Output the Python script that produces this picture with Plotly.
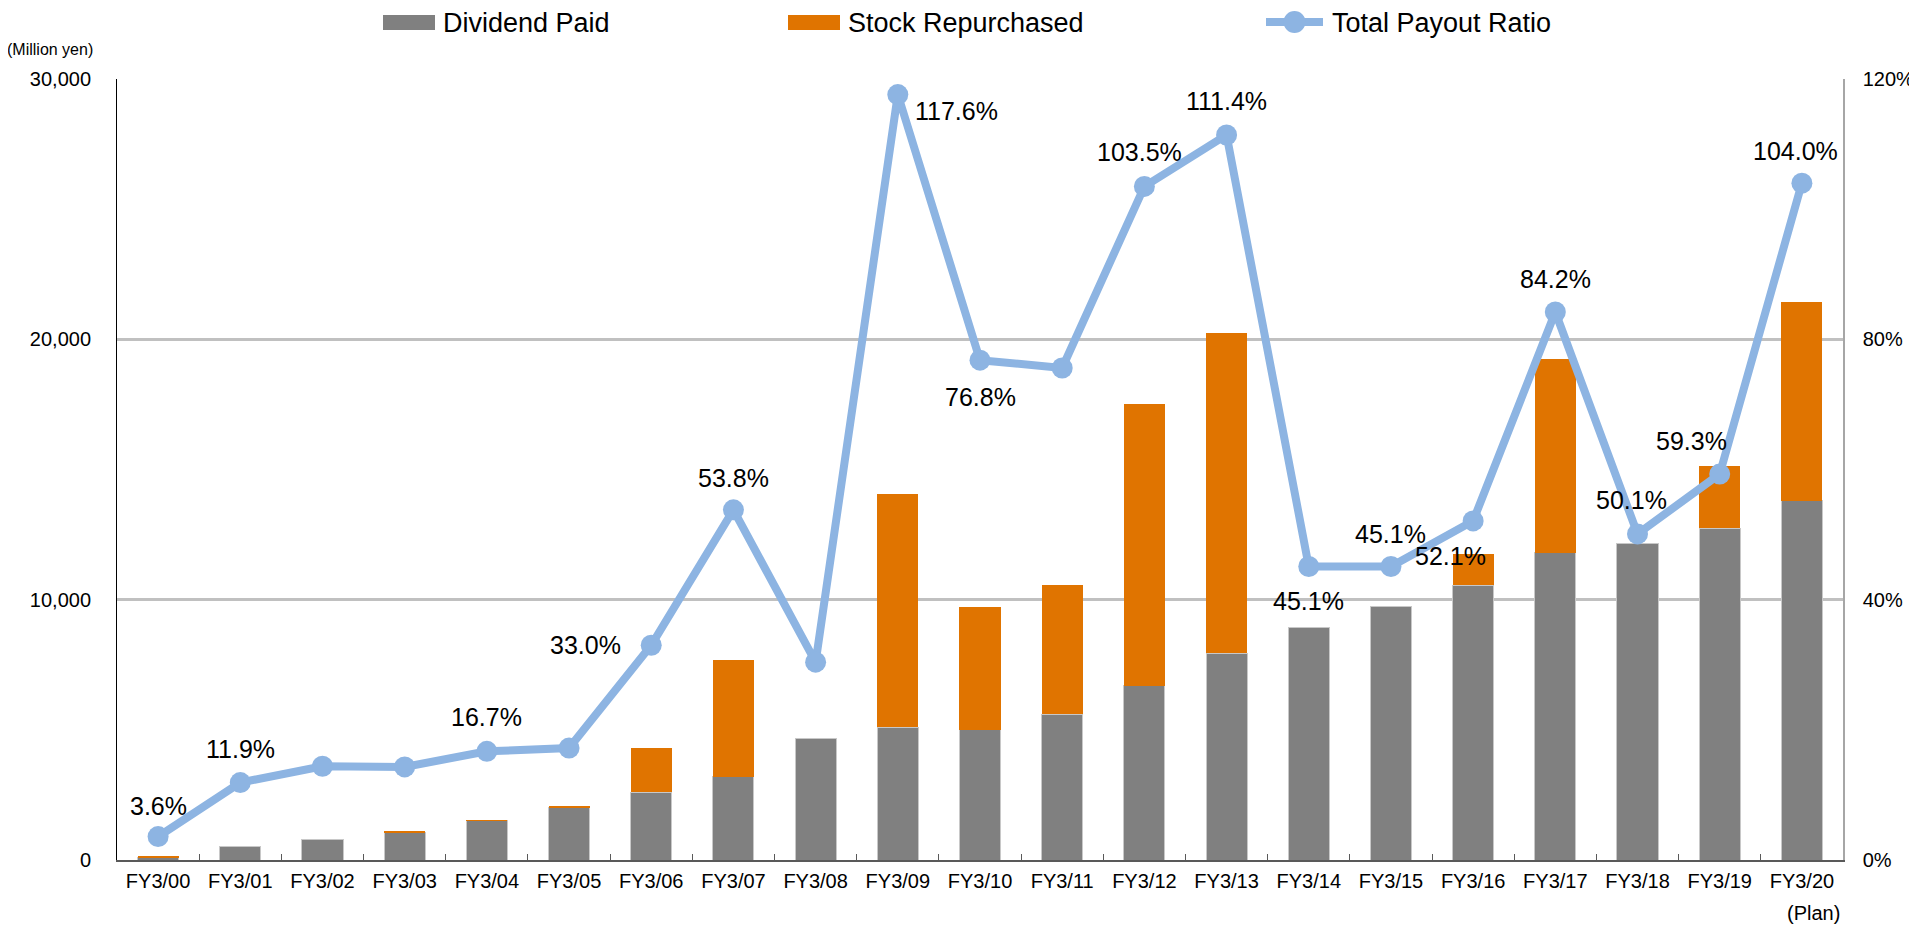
import plotly.graph_objects as go

categories = ["FY3/00", "FY3/01", "FY3/02", "FY3/03", "FY3/04", "FY3/05", "FY3/06",
              "FY3/07", "FY3/08", "FY3/09", "FY3/10", "FY3/11", "FY3/12", "FY3/13",
              "FY3/14", "FY3/15", "FY3/16", "FY3/17", "FY3/18", "FY3/19", "FY3/20"]
dividend_paid = [80, 520, 800, 1050, 1500, 2000, 2600, 3200, 4650, 5100, 5000, 5600,
                 6700, 7950, 8950, 9750, 10550, 11800, 12150, 12750, 13800]
stock_repurchased = [60, 0, 0, 50, 30, 50, 1700, 4500, 0, 8950, 4700, 4950,
                     10800, 12300, 0, 0, 1200, 7450, 0, 2400, 7650]
payout_ratio = [3.6, 11.9, 14.4, 14.3, 16.7, 17.2, 33.0, 53.8, 30.4, 117.6, 76.8, 75.6,
                103.5, 111.4, 45.1, 45.1, 52.1, 84.2, 50.1, 59.3, 104.0]
# label offsets in pixels (None = no label)
label_offsets = [(0, 31), (0, 34), None, None, (0, 34), None, (-66, 0), (0, 32), None,
                 (59, -16), (0, -37), None, (-5, 34), (0, 34), (0, -35), (0, 32),
                 (-23, -35), (0, 33), (-6, 34), (-28, 33), (-6, 32)]

FONT = "Arial, Liberation Sans, sans-serif"
GRAY = "#808080"
ORANGE = "#E07400"
BLUE = "#8DB4E2"

PAGE_OFF = 8  # body margin of the html page
W, H = 1917 - PAGE_OFF, 937 - 2 * PAGE_OFF
# plot area in page pixels
L, R, T, B = 117, 1843, 79, 860
mL, mR, mT, mB = L - PAGE_OFF, W - (R - PAGE_OFF), T - PAGE_OFF, H - (B - PAGE_OFF)

def px(x):
    return (x - L) / (R - L)

def py(y):
    return (B - y) / (B - T)

fig = go.Figure()
fig.add_trace(go.Bar(x=categories, y=dividend_paid, name="Dividend Paid",
                     marker=dict(color=GRAY, line=dict(width=1, color="#C8C8C8")), width=0.5))
fig.add_trace(go.Bar(x=categories, y=stock_repurchased, name="Stock Repurchased",
                     marker=dict(color=ORANGE, line=dict(width=0)), width=0.5))
fig.add_trace(go.Scatter(x=categories, y=payout_ratio, name="Total Payout Ratio", yaxis="y2",
                         mode="lines+markers", line=dict(color=BLUE, width=8),
                         marker=dict(color=BLUE, size=21)))

annotations = []
for c, v, off in zip(categories, payout_ratio, label_offsets):
    if off is None:
        continue
    annotations.append(dict(x=c, y=v, xref="x", yref="y2", text=f"{v:.1f}%", showarrow=False,
                            xanchor="center", yanchor="middle",
                            xshift=off[0], yshift=off[1], font=dict(size=25, color="black", family=FONT)))

annotations.append(dict(x=px(50), y=py(50), xref="paper", yref="paper", text="(Million yen)",
                        xanchor="center", yanchor="middle",
                        showarrow=False, font=dict(size=16, color="black", family=FONT)))
annotations.append(dict(x=px(1842), y=py(913), xref="paper", yref="paper", text="(Plan)",
                        xanchor="right", yanchor="middle",
                        showarrow=False, font=dict(size=20, color="black", family=FONT)))

# manual legend
shapes = []
leg_y = py(23)
leg = [("Dividend Paid", GRAY, 383, 435, 441, "bar"),
       ("Stock Repurchased", ORANGE, 788, 840, 846, "bar"),
       ("Total Payout Ratio", BLUE, 1266, 1323, 1330, "line")]
for name, col, x0, x1, xt, kind in leg:
    if kind == "bar":
        shapes.append(dict(type="rect", xref="paper", yref="paper", x0=px(x0), x1=px(x1),
                           y0=py(30), y1=py(15), fillcolor=col, line=dict(width=0)))
    else:
        shapes.append(dict(type="line", xref="paper", yref="paper", x0=px(x0), x1=px(x1),
                           y0=py(22), y1=py(22), line=dict(color=col, width=8)))
        cx = (x0 + x1) / 2
        shapes.append(dict(type="circle", xref="paper", yref="paper", x0=px(cx - 11), x1=px(cx + 11),
                           y0=py(33), y1=py(11), fillcolor=col, line=dict(width=0)))
    annotations.append(dict(x=px(xt), y=leg_y, xref="paper", yref="paper", text=name, xanchor="left",
                            yanchor="middle", showarrow=False, font=dict(size=27, color="black", family=FONT)))

fig.update_layout(
    width=W, height=H, barmode="stack", showlegend=False,
    paper_bgcolor="white", plot_bgcolor="white",
    margin=dict(l=mL, r=mR, t=mT, b=mB, autoexpand=False),
    font=dict(family=FONT, color="black", size=20),
    annotations=annotations, shapes=shapes,
    xaxis=dict(type="category", range=[-0.5, len(categories) - 0.5], autorange=False,
               showline=True, linecolor="#595959", linewidth=2,
               ticks="inside", tickson="boundaries", ticklen=6, tickcolor="#595959",
               tickfont=dict(size=20), ticklabelstandoff=2, showgrid=False),
    yaxis=dict(range=[0, 30000], dtick=10000, tickformat=",", showline=True, linecolor="black",
               linewidth=1, showgrid=True, gridcolor="#C0C0C0", gridwidth=2.5, zeroline=False,
               tickfont=dict(size=20), ticks="", ticklabelstandoff=21),
    yaxis2=dict(range=[0, 120], dtick=40, ticksuffix="%", overlaying="y", side="right",
                showline=True, linecolor="#A6A6A6", linewidth=1.5, showgrid=False, zeroline=False,
                tickfont=dict(size=20), ticks="", ticklabelstandoff=14),
)

fig.write_html("out.html")
